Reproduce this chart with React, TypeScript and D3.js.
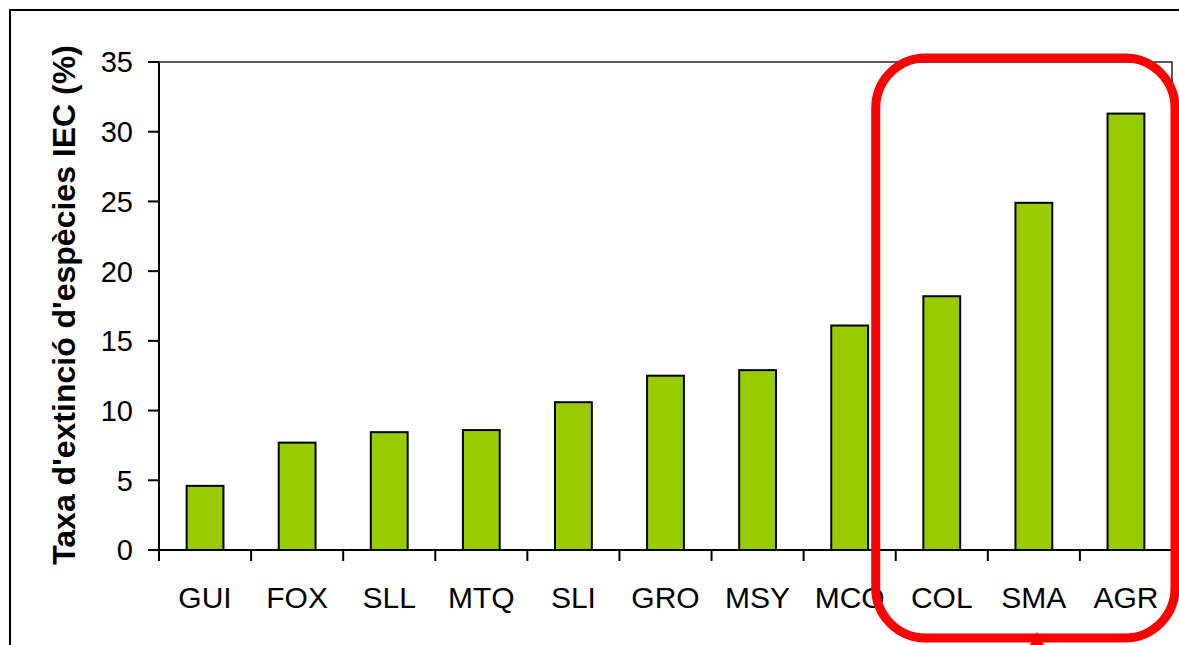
import React, { useRef, useEffect } from 'react';
import * as d3 from 'd3';

const categories: string[] = ['GUI', 'FOX', 'SLL', 'MTQ', 'SLI', 'GRO', 'MSY', 'MCO', 'COL', 'SMA', 'AGR'];
const values: number[] = [4.6, 7.7, 8.45, 8.6, 10.6, 12.5, 12.9, 16.1, 18.2, 24.9, 31.3];
const yTicks: number[] = [0, 5, 10, 15, 20, 25, 30, 35];
const yTitle = "Taxa d'extinció d'espècies IEC (%)";
const highlighted: string[] = ['COL', 'SMA', 'AGR'];

const width = 1179;
const height = 645;
const margin = { top: 62, right: 7, bottom: 95, left: 159 };
const font = "'Liberation Sans', Arial, sans-serif";

function App() {
    const ref = useRef<SVGSVGElement>(null);

    useEffect(() => {
        if (!ref.current) return;
        const svg = d3.select(ref.current);
        svg.selectAll('*').remove();

        const x = d3.scaleBand<string>()
            .domain(categories)
            .range([margin.left, width - margin.right])
            .paddingInner(0.6)
            .paddingOuter(0.3);
        const step = x.step();

        const y = d3.scaleLinear()
            .domain([0, 35])
            .range([height - margin.bottom, margin.top]);

        // outer frame (top and left visible)
        svg.append('path')
            .attr('d', `M10,${height} L10,10 L${width},10`)
            .attr('fill', 'none')
            .attr('stroke', '#000')
            .attr('stroke-width', 2);

        // plot area frame top / right
        svg.append('path')
            .attr('d', `M${margin.left},${y(35)} L${width - margin.right},${y(35)} L${width - margin.right},${y(0)}`)
            .attr('fill', 'none')
            .attr('stroke', '#222')
            .attr('stroke-width', 1.5);

        // bars
        svg.append('g')
            .selectAll('rect')
            .data(categories)
            .join('rect')
            .attr('x', d => x(d)!)
            .attr('y', (d, i) => y(values[i]))
            .attr('width', x.bandwidth())
            .attr('height', (d, i) => y(0) - y(values[i]))
            .attr('fill', '#99CC00')
            .attr('stroke', '#000')
            .attr('stroke-width', 2);

        // y axis
        const yAxis = svg.append('g');
        yAxis.append('line')
            .attr('x1', margin.left).attr('x2', margin.left)
            .attr('y1', y(0)).attr('y2', y(35))
            .attr('stroke', '#000').attr('stroke-width', 2);
        yAxis.selectAll('line.tick')
            .data(yTicks)
            .join('line')
            .attr('class', 'tick')
            .attr('x1', margin.left - 11).attr('x2', margin.left)
            .attr('y1', d => y(d)).attr('y2', d => y(d))
            .attr('stroke', '#000').attr('stroke-width', 2);
        yAxis.selectAll('text')
            .data(yTicks)
            .join('text')
            .attr('x', 133)
            .attr('y', d => y(d))
            .attr('dy', '0.36em')
            .attr('text-anchor', 'end')
            .attr('font-family', font)
            .attr('font-size', 29)
            .text(d => d);

        // x axis
        const xAxis = svg.append('g');
        xAxis.append('line')
            .attr('x1', margin.left - 11).attr('x2', width - margin.right)
            .attr('y1', y(0)).attr('y2', y(0))
            .attr('stroke', '#000').attr('stroke-width', 2);
        xAxis.selectAll('line.tick')
            .data(d3.range(categories.length + 1))
            .join('line')
            .attr('class', 'tick')
            .attr('x1', i => margin.left + i * step).attr('x2', i => margin.left + i * step)
            .attr('y1', y(0)).attr('y2', y(0) + 11)
            .attr('stroke', '#000').attr('stroke-width', 2);
        xAxis.selectAll('text')
            .data(categories)
            .join('text')
            .attr('x', d => x(d)! + x.bandwidth() / 2)
            .attr('y', 608)
            .attr('text-anchor', 'middle')
            .attr('font-family', font)
            .attr('font-size', 30)
            .text(d => d);

        // y title
        svg.append('text')
            .attr('transform', `translate(75,305) rotate(-90)`)
            .attr('text-anchor', 'middle')
            .attr('font-family', font)
            .attr('font-size', 32)
            .attr('font-weight', 'bold')
            .text(yTitle);

        // red highlight box around the last bars
        const hx0 = x(highlighted[0])! - step * 0.3 - 20;
        const hx1 = x(highlighted[highlighted.length - 1])! + x.bandwidth() + step * 0.3 + 3;
        const hy0 = 58;
        const hy1 = 638;
        svg.append('rect')
            .attr('x', hx0)
            .attr('y', hy0)
            .attr('width', hx1 - hx0)
            .attr('height', hy1 - hy0)
            .attr('rx', 50)
            .attr('ry', 50)
            .attr('fill', 'none')
            .attr('stroke', '#FF0000')
            .attr('stroke-width', 9);
        const ax = x('SMA')! + x.bandwidth() / 2 + 3;
        svg.append('path')
            .attr('d', `M${ax},${hy1 - 6} L${ax + 7},${height} L${ax - 7},${height} Z`)
            .attr('fill', '#FF0000');
    }, []);

    return (
        <svg
            ref={ref}
            width={width}
            height={height}
            style={{ position: 'absolute', left: 0, top: 0, background: '#fff' }}
        />
    );
}

export default App;
